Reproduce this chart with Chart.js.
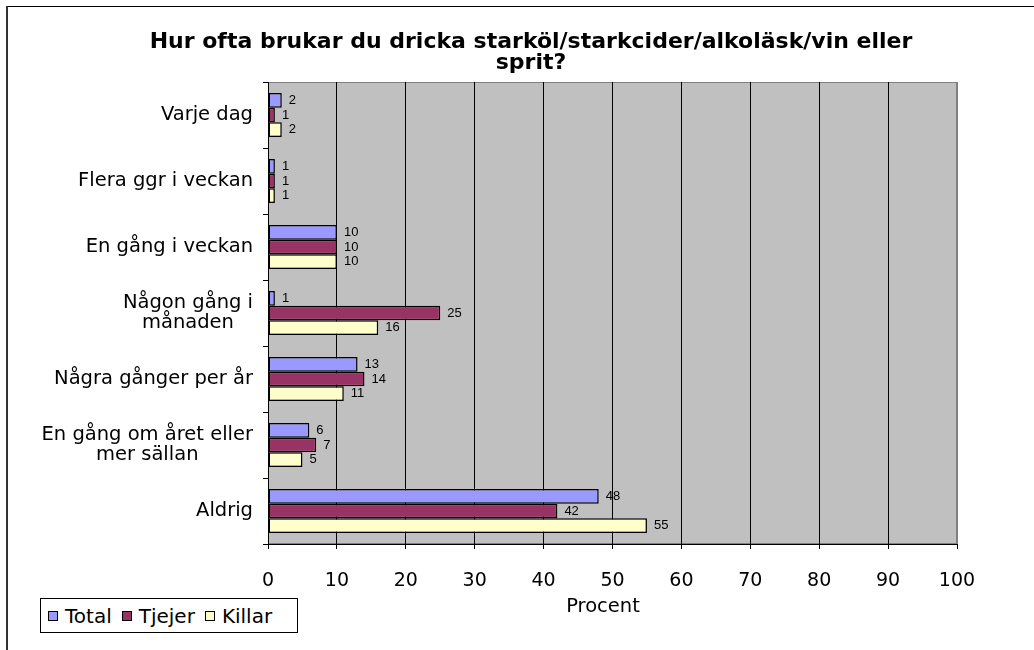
<!DOCTYPE html>
<html>
<head>
<meta charset="utf-8">
<script src="https://cdn.jsdelivr.net/npm/chart.js@4/dist/chart.umd.min.js"></script>
<style>
  body { margin: 0; background: #fff; overflow: hidden; }
  #wrap { position: relative; width: 1034px; height: 650px; overflow: hidden; }
  .rule { position: absolute; }
  #rule-top { left: 6px; top: 6px; width: 1028px; height: 1px; background: #000; }
  #rule-left { left: 6px; top: 6px; width: 2px; height: 644px; background: #333; }
  #chart { position: absolute; left: 0; top: 0; }
  #legend { position: absolute; left: 40px; top: 598px; width: 258px; height: 35px;
    border: 1px solid #000; background: #fff; display: flex; align-items: center;
    font: 20px "DejaVu Sans", sans-serif; color: #000; box-sizing: border-box; padding-left: 7px; }
  .item { display: flex; align-items: center; margin-right: 10px; }
  .swatch { width: 8px; height: 8px; border: 1.5px solid #000; margin-right: 7px; }
</style>
</head>
<body>
<div id="wrap">
  <div class="rule" id="rule-top"></div>
  <div class="rule" id="rule-left"></div>
  <canvas id="chart" width="1034" height="650"></canvas>
  <div id="legend"></div>
</div>
<script>
const titleLines = ['Hur ofta brukar du dricka starköl/starkcider/alkoläsk/vin eller', 'sprit?'];
const categories = [
  ['Varje dag'],
  ['Flera ggr i veckan'],
  ['En gång i veckan'],
  ['Någon gång i', 'månaden'],
  ['Några gånger per år'],
  ['En gång om året eller', 'mer sällan'],
  ['Aldrig']
];
const seriesNames = ['Total', 'Tjejer', 'Killar'];
const seriesColors = ['#9999ff', '#993366', '#ffffcc'];
const totalValues = [2, 1, 10, 1, 13, 6, 48];
const tjejerValues = [1, 1, 10, 25, 14, 7, 42];
const killarValues = [2, 1, 10, 16, 11, 5, 55];
const xTicks = [0, 10, 20, 30, 40, 50, 60, 70, 80, 90, 100];
const xTitle = 'Procent';

const FONT = '"DejaVu Sans", Verdana, sans-serif';

// gray plot background + frame
const plotBackground = {
  id: 'plotBackground',
  beforeDraw(chart) {
    const { ctx, chartArea: a } = chart;
    ctx.save();
    ctx.fillStyle = '#c0c0c0';
    ctx.fillRect(a.left, a.top, a.right - a.left, a.bottom - a.top);
    ctx.strokeStyle = '#808080';
    ctx.lineWidth = 1;
    ctx.strokeRect(a.left + 0.5, a.top + 0.5, a.right - a.left - 1, a.bottom - a.top - 1);
    ctx.restore();
  }
};

// value labels at bar ends, category labels, titles
const textLayer = {
  id: 'textLayer',
  afterDatasetsDraw(chart) {
    const ctx = chart.ctx;
    ctx.save();
    ctx.fillStyle = '#000';
    ctx.font = '13px "Liberation Sans", Arial, sans-serif';
    ctx.textBaseline = 'middle';
    ctx.textAlign = 'left';
    chart.data.datasets.forEach((ds, i) => {
      chart.getDatasetMeta(i).data.forEach((bar, j) => {
        ctx.fillText(String(ds.data[j]), bar.x + 7, bar.y);
      });
    });
    ctx.restore();
  },
  afterDraw(chart) {
    const ctx = chart.ctx;
    const yScale = chart.scales.y;
    ctx.save();
    ctx.fillStyle = '#000';
    ctx.font = '19.5px ' + FONT;
    ctx.textBaseline = 'middle';
    ctx.textAlign = 'center';
    const right = 253;
    const lh = 20;
    categories.forEach((lines, i) => {
      const cy = yScale.getPixelForValue(i);
      const w = Math.max(...lines.map(l => ctx.measureText(l).width));
      const cx = right - w / 2;
      lines.forEach((l, k) => {
        ctx.fillText(l, cx, cy + (k - (lines.length - 1) / 2) * lh);
      });
    });

    // axis title, centred a bit left of the plot centre like the original
    ctx.fillText(xTitle, 603, 607);

    ctx.font = 'bold 22px ' + FONT;
    titleLines.forEach((l, k) => ctx.fillText(l, 531, 42 + k * 21));
    ctx.restore();
  }
};

const datasets = [totalValues, tjejerValues, killarValues].map((vals, i) => ({
  label: seriesNames[i],
  data: vals,
  backgroundColor: seriesColors[i],
  borderColor: '#000',
  borderWidth: 1.5,
  borderSkipped: false,
  barPercentage: 1,
  categoryPercentage: 0.67
}));

new Chart(document.getElementById('chart'), {
  type: 'bar',
  data: { labels: categories, datasets },
  options: {
    indexAxis: 'y',
    responsive: false,
    devicePixelRatio: 1,
    animation: false,
    layout: { padding: { top: 82, right: 77, left: 0, bottom: 0 } },
    plugins: {
      legend: { display: false },
      title: { display: false },
      tooltip: { enabled: false }
    },
    scales: {
      x: {
        min: 0,
        max: 100,
        afterBuildTicks(scale) { scale.ticks = xTicks.map(v => ({ value: v })); },
        afterFit(scale) { scale.height = 106; },
        ticks: { color: '#000', font: { family: FONT, size: 19 }, padding: 21, maxRotation: 0 },
        grid: {
          color: ctx => (ctx.tick && ctx.tick.value === 100 ? '#808080' : '#000'),
          tickColor: '#000',
          tickLength: 5,
          lineWidth: 1
        },
        border: { color: '#000', width: 1 },
        title: { display: false }
      },
      y: {
        afterFit(scale) { scale.width = 268; },
        ticks: { display: false },
        grid: { drawOnChartArea: false, color: '#000', tickLength: 5 },
        border: { color: '#000', width: 1 }
      }
    }
  },
  plugins: [plotBackground, textLayer]
});

// legend built from the series arrays
const legend = document.getElementById('legend');
seriesNames.forEach((name, i) => {
  const item = document.createElement('div');
  item.className = 'item';
  const sw = document.createElement('div');
  sw.className = 'swatch';
  sw.style.background = seriesColors[i];
  const label = document.createElement('span');
  label.textContent = name;
  item.appendChild(sw);
  item.appendChild(label);
  legend.appendChild(item);
});
</script>
</body>
</html>
